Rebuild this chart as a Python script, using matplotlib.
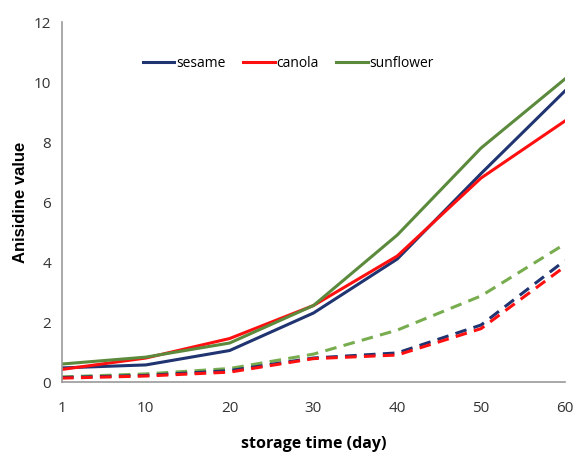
import numpy as np
import matplotlib.pyplot as plt

plt.rcParams['font.family'] = ['Open Sans', 'DejaVu Sans']

# storage days (categorical x axis)
days = ['1', '10', '20', '30', '40', '50', '60']

# solid lines
sesame = [0.47, 0.57, 1.05, 2.3, 4.1, 6.95, 9.7]
canola = [0.42, 0.8, 1.45, 2.55, 4.2, 6.8, 8.7]
sunflower = [0.6, 0.83, 1.3, 2.55, 4.9, 7.8, 10.1]

# dashed lines
sesame_d = [0.15, 0.22, 0.38, 0.8, 0.97, 1.9, 4.05]
canola_d = [0.13, 0.2, 0.33, 0.78, 0.9, 1.78, 3.85]
sunflower_d = [0.17, 0.27, 0.45, 0.93, 1.73, 2.87, 4.6]

navy = '#1f3470'
red = '#ff1010'
green = '#5b8a3c'
green_l = '#78ad4f'

fig = plt.figure(figsize=(5.77, 4.55), dpi=100)
ax = fig.add_axes([0.1075, 0.1604, 0.8715, 0.7912])

x = np.arange(len(days))
lw = 2.2
ax.plot(x, sesame, color=navy, lw=lw, label='sesame')
ax.plot(x, canola, color=red, lw=lw, label='canola')
ax.plot(x, sunflower, color=green, lw=lw, label='sunflower')

ds = (0, (3.8, 2.4))
ax.plot(x, sunflower_d, color=green_l, lw=lw, ls=ds)
ax.plot(x, sesame_d, color=navy, lw=lw, ls=ds)
ax.plot(x, canola_d, color=red, lw=lw, ls=ds)

ax.set_xlim(0, 6)
ax.set_ylim(0, 12)
ax.set_xticks(x)
ax.set_xticklabels(days)
ax.set_yticks(range(0, 13, 2))
ax.tick_params(length=0, labelsize=11, colors='#333333', pad=8)
ax.tick_params(axis='x', pad=14)

for s in ['top', 'right']:
    ax.spines[s].set_visible(False)
for s in ['left', 'bottom']:
    ax.spines[s].set_color('#999999')
    ax.spines[s].set_linewidth(1.2)

ax.set_xlabel('storage time (day)', fontsize=11.5, fontweight='bold', labelpad=14)
ax.set_ylabel('Anisidine value', fontsize=12, fontweight='bold',
              family=['Liberation Sans', 'DejaVu Sans'], labelpad=4)

ax.legend(loc='upper center', bbox_to_anchor=(0.45, 0.94), ncol=3, frameon=False,
          fontsize=10, handlelength=2.3, handletextpad=0.15, columnspacing=1.2)

fig.savefig('out.png', dpi=100)
